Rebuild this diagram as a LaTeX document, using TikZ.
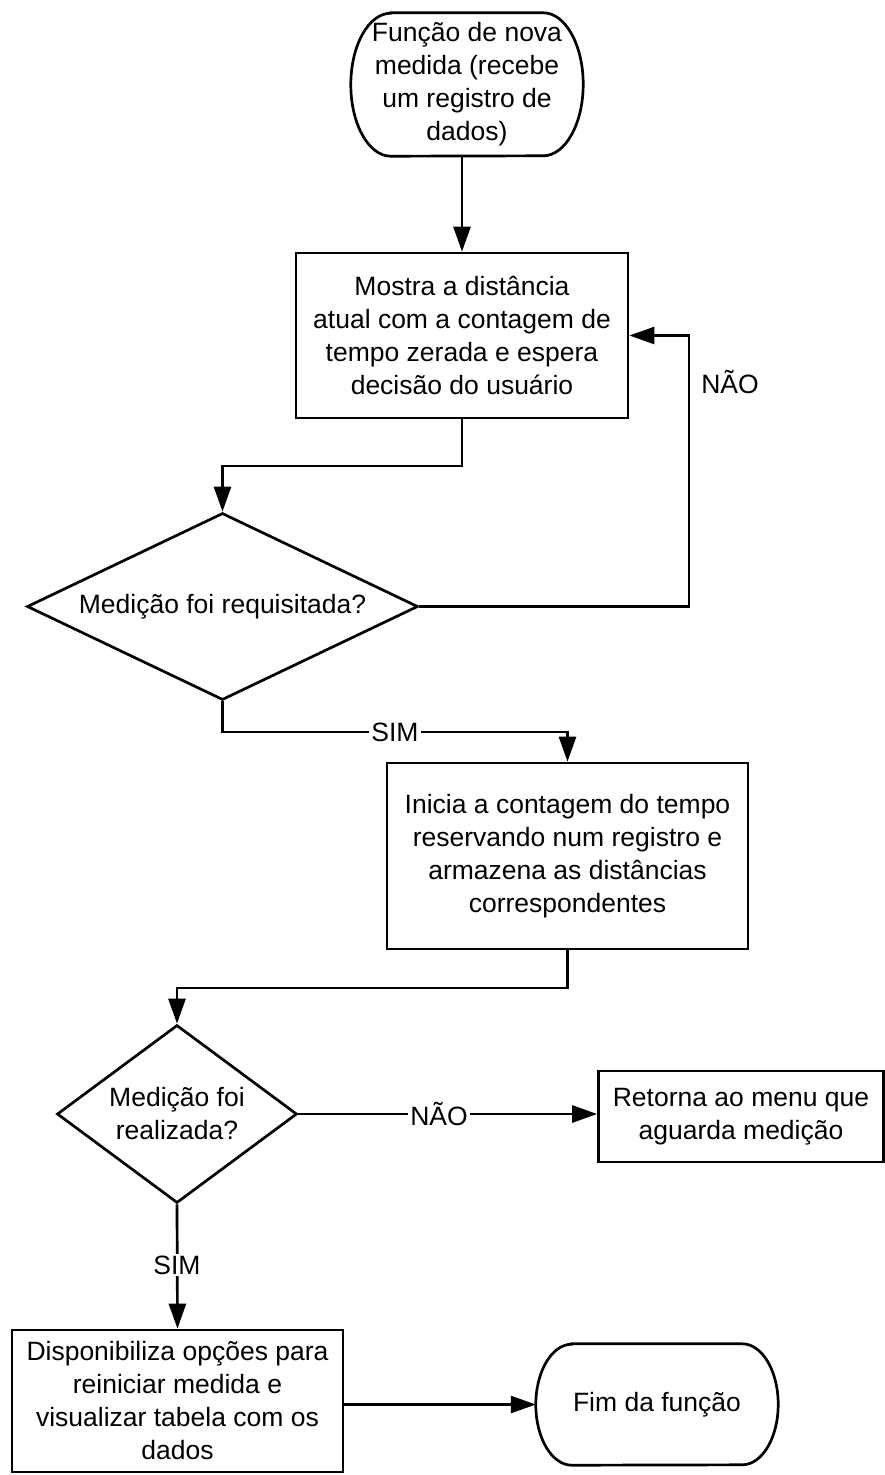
\documentclass[tikz,border=0pt]{standalone}
\usepackage{fontspec}
\setmainfont{Liberation Sans}
\usetikzlibrary{arrows.meta,shapes.geometric}
\newcommand\termshape[3]{\draw[line width=2.7pt] ([xshift=#2]#1.north west) -- ([xshift=-#2]#1.north east) arc[start angle=90,end angle=-90,x radius=#2,y radius=#3] -- ([xshift=#2]#1.south west) arc[start angle=270,end angle=90,x radius=#2,y radius=#3] -- cycle;}
\begin{document}
\begin{tikzpicture}[x=1pt,y=-1pt,
  every node/.style={font=\fontsize{26.5}{33}\selectfont, text=black},
  proc/.style={draw, line width=2.7pt, rectangle, align=center, inner sep=0pt},
  term/.style={rectangle, align=center, inner sep=0pt},
  dec/.style={draw, line width=2.7pt, diamond, align=center, inner sep=0pt},
  arr/.style={line width=2.7pt, -{Triangle[length=25pt,width=17pt]}},
  lbl/.style={fill=white, inner sep=2pt}]
\fill[white] (0,0) rectangle (885,1475);
\useasboundingbox (0,0) rectangle (885,1475);

\node[term, minimum width=232pt, minimum height=143pt] (start) at (467,84.5)
  {Função de nova\\medida (recebe\\um registro de\\dados)};
\termshape{start}{40pt}{71.5pt}

\node[proc, minimum width=332pt, minimum height=165pt] (b1) at (462,335.5)
  {Mostra a distância\\atual com a contagem de\\tempo zerada e espera\\decisão do usuário};

\node[dec, aspect=2.09, minimum width=391pt, minimum height=187pt] (d1) at (222.5,606.5)
  {Medição foi requisitada?};

\node[proc, minimum width=361pt, minimum height=186pt] (b2) at (567.5,856)
  {Inicia a contagem do tempo\\reservando num registro e\\armazena as distâncias\\correspondentes};

\node[dec, aspect=1.35, minimum width=240pt, minimum height=178pt] (d2) at (177,1114)
  {Medição foi\\realizada?};

\node[proc, minimum width=285pt, minimum height=91pt] (b3) at (741,1116.5)
  {Retorna ao menu que\\aguarda medição};

\node[proc, minimum width=331pt, minimum height=142pt] (b4) at (177.5,1401)
  {Disponibiliza opções para\\reiniciar medida e\\visualizar tabela com os\\dados};

\node[term, minimum width=242pt, minimum height=121pt] (end) at (657,1404.5)
  {Fim da função};
\termshape{end}{36pt}{60.5pt}

\coordinate (j1) at (342,466);
\coordinate (j2) at (395,732);
\coordinate (j3) at (689,470);
\coordinate (j4) at (370,988);

\draw[arr] (b1.north |- start.south) -- (b1.north);
\draw[arr] (b1.south) |- (j1) -| (d1.north);
\draw[arr] (d1.east) -| (j3) |- (b1.east);
\draw[arr] (d1.south) |- (j2) -| (b2.north);
\draw[arr] (b2.south) |- (j4) -| (d2.north);
\draw[arr] (d2.east) -- (d2.east -| b3.west);
\draw[arr] (d2.south) -- (b4.north);
\draw[arr] (b4.east |- end.west) -- (end.west);

\node[lbl] (n1) at (730,382) {NÃO};
\node[lbl] (s1) at (395,732) {SIM};
\node[lbl] (n2) at (439,1114) {NÃO};
\node[lbl] (s2) at (177,1265) {SIM};
\end{tikzpicture}
\end{document}
